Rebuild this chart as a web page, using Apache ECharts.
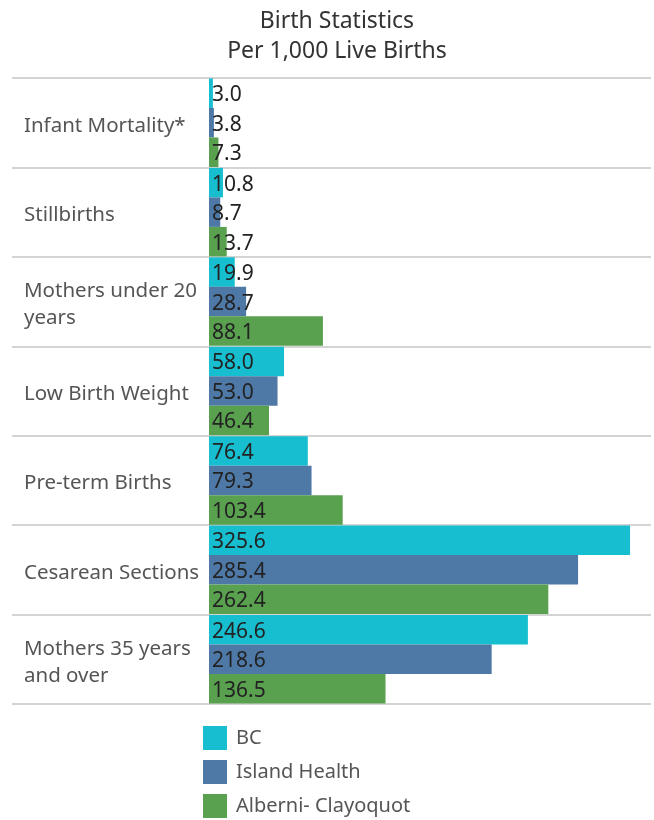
<!DOCTYPE html>
<html><head><meta charset="utf-8">
<script src="https://cdn.jsdelivr.net/npm/echarts@6/dist/echarts.min.js"></script>
<style>html,body{margin:0;padding:0;background:#fff}#c{width:654px;height:820px}</style>
</head><body><div id="c"></div>
<script>
const categories = ['Infant Mortality*', 'Stillbirths', 'Mothers under 20\nyears', 'Low Birth Weight', 'Pre-term Births', 'Cesarean Sections', 'Mothers 35 years\nand over'];
const seriesNames = ['BC', 'Island Health', 'Alberni- Clayoquot'];
const bcValues = [3.0, 10.8, 19.9, 58.0, 76.4, 325.6, 246.6];
const islandValues = [3.8, 8.7, 28.7, 53.0, 79.3, 285.4, 218.6];
const alberniValues = [7.3, 13.7, 88.1, 46.4, 103.4, 262.4, 136.5];
const colors = ['#17becf', '#4e79a7', '#59a14f'];
const FONT = '"Noto Sans", sans-serif';

const chart = echarts.init(document.getElementById('c'), null, {renderer: 'canvas'});
function mk(name, data, i) {
  return {
    name: name, type: 'bar', data: data, xAxisIndex: 0, yAxisIndex: 0,
    barGap: '0%', barCategoryGap: '1%',
    itemStyle: {color: colors[i]},
    label: {show: true, position: 'insideLeft', distance: 3, offset: [0, 2], color: '#222', fontSize: 21, fontFamily: FONT,
      formatter: p => p.value.toFixed(1)},
    emphasis: {disabled: true}
  };
}
chart.setOption({
  animation: false,
  title: {
    text: 'Birth Statistics\nPer 1,000 Live Births', left: 332, top: 1, textAlign: 'center',
    textStyle: {fontSize: 23, fontWeight: 'normal', color: '#333', lineHeight: 30, fontFamily: FONT}
  },
  legend: {
    orient: 'vertical', left: 203, top: 726, itemWidth: 24, itemHeight: 24, itemGap: 10, icon: 'rect',
    padding: 0, data: seriesNames,
    textStyle: {fontSize: 20, color: '#555', fontFamily: FONT, padding: [0, 0, 0, 4]}
  },
  grid: [
    {left: 209, right: 3, top: 78, bottom: 116},
    {left: 12, right: 3, top: 78, bottom: 116},
    {left: 12, right: 3, top: 81, bottom: 113}
  ],
  xAxis: [
    {type: 'value', gridIndex: 0, min: 0, max: 341.8, show: false},
    {type: 'value', gridIndex: 1, show: false},
    {type: 'value', gridIndex: 2, show: false}
  ],
  yAxis: [
    {type: 'category', gridIndex: 0, data: categories, inverse: true, show: false},
    {type: 'category', gridIndex: 1, data: categories, inverse: true,
      axisLine: {show: false}, axisTick: {show: false}, axisLabel: {show: false},
      splitLine: {show: true, lineStyle: {color: '#d4d4d4', width: 2}}
    },
    {type: 'category', gridIndex: 2, data: categories, inverse: true,
      axisLine: {show: false}, axisTick: {show: false}, splitLine: {show: false},
      axisLabel: {inside: true, margin: 12, color: '#555', fontSize: 20.5, lineHeight: 27, fontFamily: FONT, align: 'left'}
    }
  ],
  series: [mk(seriesNames[0], bcValues, 0), mk(seriesNames[1], islandValues, 1), mk(seriesNames[2], alberniValues, 2)]
});
</script></body></html>
